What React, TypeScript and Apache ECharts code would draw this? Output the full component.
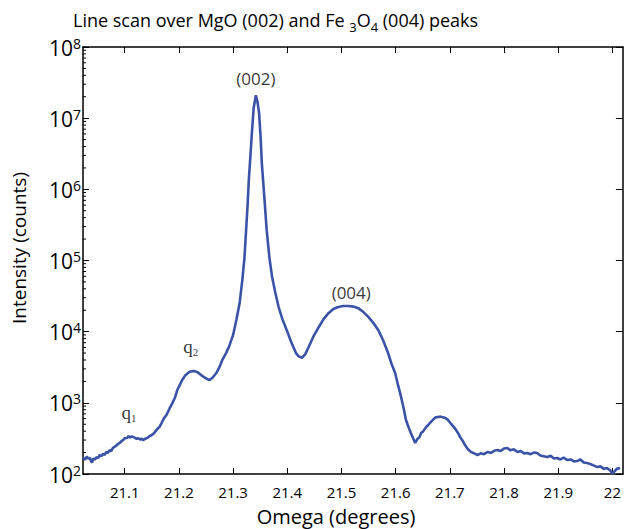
import React, { useEffect, useRef } from "react";
import * as echarts from "echarts";

// Omega (degrees)
const omega = [
  21.023, 21.027, 21.030, 21.033, 21.036, 21.038, 21.040, 21.042, 21.045, 21.048,
  21.051, 21.054, 21.057, 21.060, 21.063, 21.066, 21.069, 21.072, 21.075, 21.078,
  21.081, 21.084, 21.087, 21.091, 21.094, 21.097, 21.100, 21.104, 21.107, 21.110,
  21.113, 21.116, 21.119, 21.122, 21.125, 21.128, 21.131, 21.134, 21.137, 21.140,
  21.144, 21.147, 21.150, 21.154, 21.157, 21.160, 21.164, 21.168, 21.172, 21.177,
  21.183, 21.188, 21.193, 21.197, 21.202, 21.206, 21.212, 21.219, 21.224, 21.228,
  21.234, 21.241, 21.248, 21.256, 21.262, 21.269, 21.275, 21.280, 21.287, 21.293,
  21.300, 21.306, 21.312, 21.317, 21.321, 21.324, 21.327, 21.329, 21.332, 21.335,
  21.338, 21.342, 21.345, 21.348, 21.351, 21.353, 21.357, 21.362, 21.367, 21.372,
  21.378, 21.384, 21.391, 21.399, 21.407, 21.416, 21.421, 21.427, 21.433, 21.439,
  21.448, 21.458, 21.467, 21.476, 21.485, 21.494, 21.503, 21.513, 21.522, 21.531,
  21.540, 21.550, 21.559, 21.568, 21.577, 21.586, 21.592, 21.599, 21.605, 21.610,
  21.615, 21.619, 21.624, 21.628, 21.632, 21.636, 21.640, 21.644, 21.647, 21.651,
  21.655, 21.660, 21.665, 21.670, 21.674, 21.678, 21.683, 21.687, 21.692, 21.696,
  21.701, 21.706, 21.711, 21.715, 21.720, 21.724, 21.728, 21.733, 21.739, 21.745,
  21.751, 21.757, 21.763, 21.770, 21.776, 21.782, 21.788, 21.794, 21.800, 21.806,
  21.812, 21.818, 21.825, 21.831, 21.837, 21.843, 21.849, 21.855, 21.861, 21.867,
  21.873, 21.880, 21.886, 21.892, 21.898, 21.904, 21.910, 21.917, 21.923, 21.929,
  21.935, 21.941, 21.947, 21.953, 21.959, 21.965, 21.972, 21.978, 21.984, 21.990,
  21.996, 22.000, 22.003, 22.008, 22.014,
];

// Intensity (counts)
const counts = [
  170, 160, 175, 165, 168, 150, 145, 165, 160, 172,
  168, 185, 178, 192, 186, 205, 198, 217, 210, 232,
  240, 250, 262, 273, 290, 300, 318, 320, 340, 325,
  338, 330, 322, 312, 318, 305, 315, 298, 310, 318,
  330, 345, 353, 375, 400, 430, 457, 520, 600, 674,
  840, 993, 1200, 1513, 1800, 2089, 2450, 2708, 2780, 2797,
  2700, 2455, 2250, 2089, 2250, 2622, 3200, 3991, 5000, 6300,
  9000, 14550, 25000, 53090, 110000, 267000, 650000, 1350000, 3000000, 6780000,
  14000000, 21000000, 17000000, 11700000, 5000000, 2330000, 900000, 267000, 110000, 58500,
  35000, 22200, 15000, 10500, 7200, 5000, 4500, 4300, 4800, 6000,
  8500, 11600, 15000, 18200, 20800, 22200, 22900, 22900, 22500, 21400,
  19000, 16000, 13200, 10500, 7500, 5000, 3600, 2620, 1700, 1210,
  820, 573, 450, 377, 320, 273, 310, 330, 377, 400,
  445, 488, 540, 590, 625, 632, 640, 625, 610, 580,
  520, 470, 420, 377, 320, 290, 255, 225, 204, 195,
  185, 195, 190, 204, 198, 212, 217, 210, 228, 232,
  215, 222, 204, 210, 195, 197, 190, 200, 197, 182,
  178, 173, 180, 165, 168, 160, 170, 157, 160, 150,
  152, 160, 145, 143, 138, 132, 125, 128, 118, 121,
  112, 102, 107, 118, 121,
];

const xTicks = [21.1, 21.2, 21.3, 21.4, 21.5, 21.6, 21.7, 21.8, 21.9, 22.0];
const X_MIN = 21.023;
const X_MAX = 22.0193;
const Y_MIN = 1e2;
const Y_MAX = 1e8;

const peakLabels = [
  { x: 21.342, y: 3.65e7, text: "(002)" },
  { x: 21.518, y: 3.6e4, text: "(004)" },
];
const qLabels = [
  { x: 21.108, y: 7.4e2, name: "q", sub: "1" },
  { x: 21.222, y: 6.1e3, name: "q", sub: "2" },
];

const SANS = '"Open Sans", "Noto Sans", sans-serif';
const SERIF = '"Liberation Serif", "DejaVu Serif", serif';
const LINE_COLOR = "#3a53a6";

export default function App() {
  const ref = useRef<HTMLDivElement>(null);

  useEffect(() => {
    document.body.style.margin = "0";
    const chart = echarts.init(ref.current!, null, { renderer: "svg" });

    const minorVals: number[] = [];
    for (let e = 2; e < 8; e++) {
      for (let m = 2; m <= 9; m++) minorVals.push(m * Math.pow(10, e));
    }

    const axisLine = { show: true, lineStyle: { color: "#000", width: 1.5 } };

    const option: any = {
      animation: false,
      backgroundColor: "#fff",
      title: {
        text: "{t|Line scan over MgO (002) and Fe }{s|3}{t|O}{s|4}{t| (004) peaks}",
        left: 73,
        top: 7,
        padding: 0,
        textStyle: {
          fontWeight: "normal",
          rich: {
            t: { fontSize: 18, lineHeight: 26, fontFamily: SANS, fontWeight: "normal", color: "#000" },
            s: { fontSize: 13, lineHeight: 13, fontFamily: SANS, fontWeight: "normal", color: "#000", verticalAlign: "bottom" },
          },
        },
      },
      grid: { left: 83, right: -3, top: 47, bottom: 55, containLabel: false },
      xAxis: [
        {
          type: "value",
          min: X_MIN,
          max: X_MAX,
          position: "bottom",
          axisLine,
          splitLine: { show: false },
          axisTick: { show: true, inside: true, length: 6, customValues: xTicks, lineStyle: { color: "#000", width: 1 } },
          axisLabel: {
            show: true,
            customValues: xTicks,
            margin: 9,
            fontSize: 15,
            lineHeight: 18,
            fontFamily: SANS,
            color: "#000",
            formatter: (v: number) => (Math.abs(v - 22) < 1e-6 ? "22" : v.toFixed(1)),
          },
        },
        {
          type: "value",
          min: X_MIN,
          max: X_MAX,
          position: "top",
          axisLine,
          splitLine: { show: false },
          axisTick: { show: true, inside: true, length: 6, customValues: xTicks, lineStyle: { color: "#000", width: 1 } },
          axisLabel: { show: false },
        },
      ],
      yAxis: [
        {
          type: "log",
          logBase: 10,
          min: Y_MIN,
          max: Y_MAX,
          position: "left",
          axisLine,
          splitLine: { show: false },
          axisTick: { show: true, inside: true, length: 6, lineStyle: { color: "#000", width: 1 } },
          axisLabel: {
            show: true,
            margin: 2,
            color: "#000",
            formatter: (v: number) => `{b|10}{s|${Math.round(Math.log10(v))}}`,
            rich: {
              b: { fontSize: 21, lineHeight: 20, fontFamily: SANS, color: "#000", verticalAlign: "bottom" },
              s: { fontSize: 14, lineHeight: 22, fontFamily: SANS, color: "#000", verticalAlign: "top", padding: [0, 0, 14, 0] },
            },
          },
        },
        {
          type: "log",
          logBase: 10,
          min: Y_MIN,
          max: Y_MAX,
          position: "right",
          axisLine,
          splitLine: { show: false },
          axisTick: { show: true, inside: true, length: 7, lineStyle: { color: "#000", width: 1 } },
          axisLabel: { show: false },
        },
      ],
      graphic: [
        {
          type: "text",
          x: 336,
          y: 516,
          style: {
            text: "Omega (degrees)",
            fontSize: 20,
            lineHeight: 20,
            fontFamily: SANS,
            fill: "#000",
            align: "center",
            verticalAlign: "middle",
          },
        },
        {
          type: "text",
          x: 19,
          y: 248,
          rotation: Math.PI / 2,
          style: { text: "Intensity (counts)", fontSize: 19, fontFamily: SANS, fill: "#000", align: "center", verticalAlign: "middle" },
        },
      ],
      series: [
        {
          type: "custom",
          silent: true,
          z: 5,
          renderItem: (params: any, api: any) => {
            const v = api.value(1);
            const pl = api.coord([X_MIN, v]);
            return {
              type: "line",
              shape: { x1: pl[0], y1: pl[1], x2: pl[0] + 3, y2: pl[1] },
              style: { stroke: "#000", lineWidth: 1 },
            };
          },
          data: minorVals.map((v) => [X_MIN, v]),
        },
        {
          type: "line",
          data: omega.map((x, i) => [x, counts[i]]),
          showSymbol: false,
          symbol: "none",
          smooth: false,
          z: 3,
          lineStyle: { color: LINE_COLOR, width: 2.6 },
        },
        {
          type: "scatter",
          symbolSize: 0,
          silent: true,
          z: 6,
          data: peakLabels.map((p) => ({ value: [p.x, p.y], name: p.text })),
          label: {
            show: true,
            position: "inside",
            formatter: (p: any) => p.name,
            fontSize: 17,
            fontFamily: SANS,
            color: "#000",
            textBorderWidth: 0,
          },
        },
        {
          type: "scatter",
          symbolSize: 0,
          silent: true,
          z: 6,
          data: qLabels.map((q) => ({ value: [q.x, q.y], name: q.name + "|" + q.sub })),
          label: {
            show: true,
            position: "inside",
            formatter: (p: any) => {
              const [n, s] = p.name.split("|");
              return `{q|${n}}{n|${s}}`;
            },
            rich: {
              q: { fontSize: 19, lineHeight: 22, fontFamily: SERIF, color: "#000" },
              n: { fontSize: 11, lineHeight: 11, fontFamily: SERIF, color: "#000", verticalAlign: "bottom" },
            },
          },
        },
      ],
    };

    chart.setOption(option);
    return () => chart.dispose();
  }, []);

  return <div ref={ref} style={{ width: 624, height: 529 }} />;
}
